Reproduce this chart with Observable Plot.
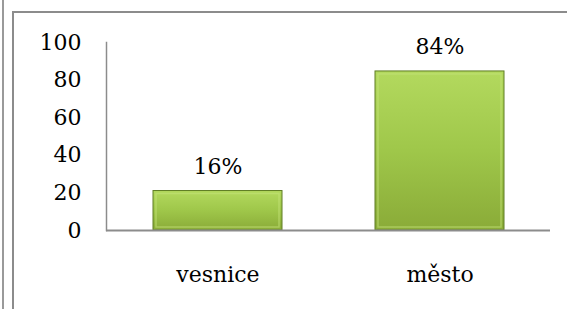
<!DOCTYPE html>
<html>
<head>
<meta charset="utf-8">
<script src="https://cdn.jsdelivr.net/npm/d3@7"></script>
<script src="https://cdn.jsdelivr.net/npm/@observablehq/plot@0.6"></script>
<style>
  html, body { margin: 0; padding: 0; background: #fff; }
  #wrap { position: relative; width: 567px; height: 309px; overflow: hidden; }
  #outer { position: absolute; left: 2px; top: 0; width: 2px; height: 309px; background: #9a9a9a; }
  #frame { position: absolute; left: 12px; top: 11px; width: 600px; height: 400px; border-left: 2px solid #8c8c8c; border-top: 2px solid #8c8c8c; }
  #chart { position: absolute; left: 0; top: 0; }
</style>
</head>
<body>
<div id="wrap">
  <div id="outer"></div>
  <div id="frame"></div>
  <div id="chart"></div>
</div>
<script>
const categories = ["vesnice", "město"];
const values = [21, 84.6];
const labels = ["16%", "84%"];
const yTicks = [0, 20, 40, 60, 80, 100];

const data = categories.map((c, i) => ({cat: c, value: values[i], label: labels[i]}));

const font = "DejaVu Serif";
const fs = 22;

const chart = Plot.plot({
  width: 567,
  height: 309,
  marginLeft: 106,
  marginRight: 17,
  marginTop: 42,
  marginBottom: 79,
  style: {background: "transparent", overflow: "visible"},
  x: {domain: categories, paddingInner: 0.42, paddingOuter: 0.21, label: null},
  y: {domain: [0, 100], ticks: yTicks, label: null},
  marks: [
    Plot.axisY({ticks: yTicks, tickSize: 0, tickPadding: 25, fontSize: fs, label: null}),
    Plot.axisX({tickSize: 0, tickPadding: 36, fontSize: fs, label: null}),
    Plot.barY(data, {x: "cat", y: "value", fill: "url(#barGrad)", stroke: "#5f7d24", strokeWidth: 1}),
    Plot.barY(data, {x: "cat", y1: 0, y2: "value", fill: "none", stroke: "#c4e37a", strokeWidth: 1.5, strokeOpacity: 0.55, inset: 3}),
    Plot.ruleY([0], {stroke: "#8c8c8c", strokeWidth: 2}),
    Plot.frame({anchor: "left", stroke: "#8c8c8c", strokeWidth: 1.5}),
    Plot.text(data, {x: "cat", y: "value", text: "label", dy: -24, fontSize: fs, fill: "#000"})
  ]
});

const svg = d3.select(chart);
svg.attr("font-family", font);
svg.selectAll("g").attr("font-family", font);
svg.selectAll("text").attr("font-family", font).style("font-family", font).attr("fill", "#000");

const defs = svg.insert("defs", ":first-child");
const g = defs.append("linearGradient").attr("id", "barGrad").attr("x1", 0).attr("y1", 0).attr("x2", 0).attr("y2", 1);
g.append("stop").attr("offset", "0%").attr("stop-color", "#b3d95e");
g.append("stop").attr("offset", "50%").attr("stop-color", "#9fc74a");
g.append("stop").attr("offset", "100%").attr("stop-color", "#8aab38");

document.getElementById("chart").appendChild(chart);
</script>
</body>
</html>
